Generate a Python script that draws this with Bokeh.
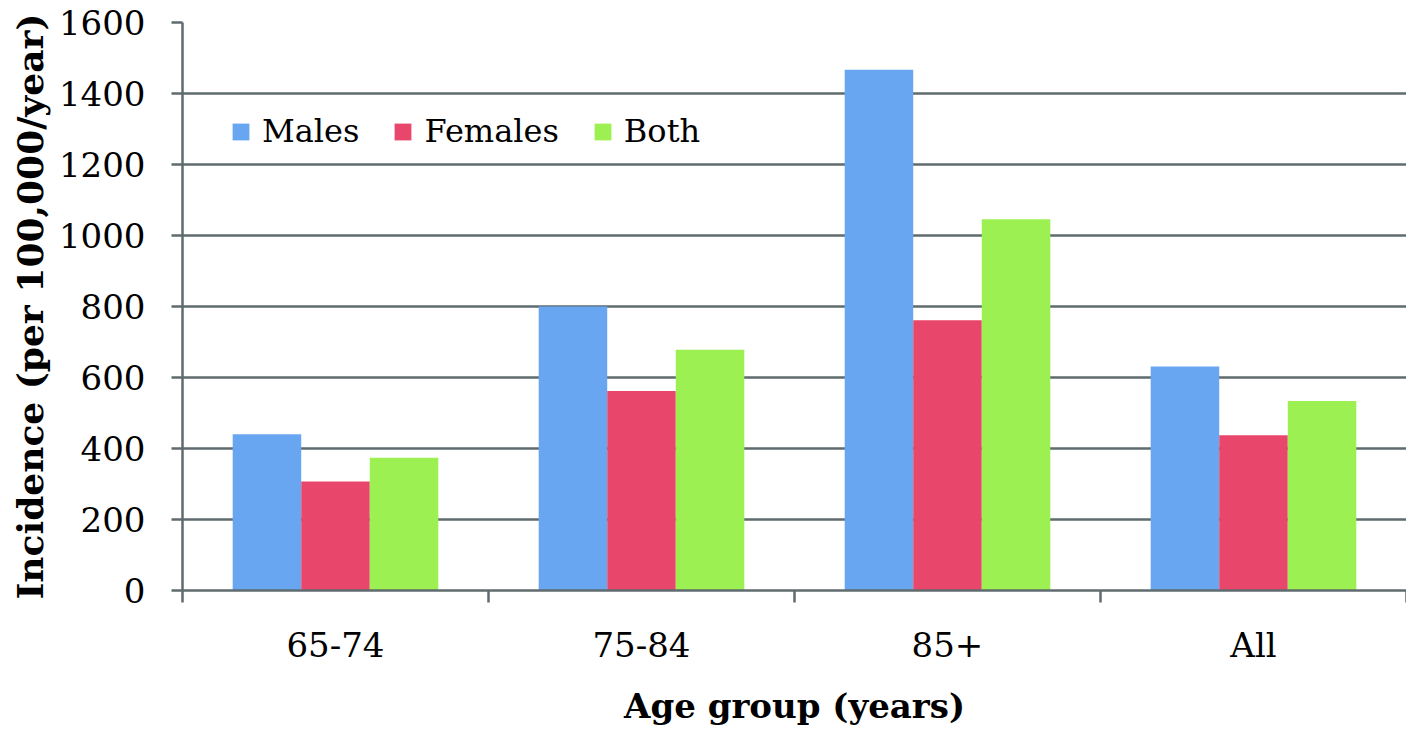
from bokeh.plotting import figure
from bokeh.models import ColumnDataSource, Range1d, FixedTicker, Legend, LegendItem
from bokeh.transform import dodge
from bokeh.embed import file_html
from bokeh.resources import INLINE

# ---- data ----
age_groups = ["65-74", "75-84", "85+", "All"]
males = [440, 800, 1467, 631]
females = [307, 562, 761, 437]
both = [374, 678, 1046, 534]
y_ticks = [0, 200, 400, 600, 800, 1000, 1200, 1400, 1600]

x_pos = [i + 0.5 for i in range(len(age_groups))]
src = ColumnDataSource(dict(x=x_pos, males=males, females=females, both=both))

GRID = "#5f6b6e"
FONT = "DejaVu Serif"

p = figure(width=1406, height=728, output_backend="svg", toolbar_location=None,
           x_range=Range1d(0, len(age_groups)), y_range=Range1d(0, 1600),
           min_border_left=182, min_border_right=0, min_border_top=22,
           min_border_bottom=118)
p.outline_line_color = None
p.background_fill_color = "white"
p.border_fill_color = "white"

bw = 0.224
r_m = p.vbar(x=dodge("x", -bw, range=p.x_range), top="males", width=bw, source=src,
             fill_color="#69a6f2", line_color=None)
r_f = p.vbar(x="x", top="females", width=bw, source=src,
             fill_color="#e9466b", line_color=None)
r_b = p.vbar(x=dodge("x", bw, range=p.x_range), top="both", width=bw, source=src,
             fill_color="#9cf052", line_color=None)

# y axis
p.yaxis.ticker = FixedTicker(ticks=y_ticks)
p.yaxis.axis_line_color = GRID
p.yaxis.axis_line_width = 2.5
p.yaxis.major_tick_line_color = GRID
p.yaxis.major_tick_line_width = 2.5
p.yaxis.major_tick_out = 11
p.yaxis.major_tick_in = 0
p.yaxis.minor_tick_line_color = None
p.yaxis.major_label_text_font = FONT
p.yaxis.major_label_text_font_size = "34px"
p.yaxis.major_label_text_color = "black"
p.yaxis.major_label_standoff = 26
p.yaxis.axis_label = "Incidence (per 100,000/year)"
p.yaxis.axis_label_text_font = FONT
p.yaxis.axis_label_text_font_style = "bold"
p.yaxis.axis_label_text_font_size = "36px"
p.yaxis.axis_label_text_color = "black"
p.yaxis.axis_label_standoff = 5

# x axis: labels at centres, tick marks at category boundaries
p.xaxis.ticker = FixedTicker(ticks=x_pos, minor_ticks=list(range(len(age_groups) + 1)))
p.xaxis.major_label_overrides = {x: lab for x, lab in zip(x_pos, age_groups)}
p.xaxis.axis_line_color = GRID
p.xaxis.axis_line_width = 2.5
p.xaxis.major_tick_line_color = None
p.xaxis.major_tick_out = 12
p.xaxis.major_tick_in = 0
p.xaxis.minor_tick_line_color = GRID
p.xaxis.minor_tick_line_width = 2.5
p.xaxis.minor_tick_out = 12
p.xaxis.minor_tick_in = 0
p.xaxis.major_label_text_font = FONT
p.xaxis.major_label_text_font_size = "34px"
p.xaxis.major_label_text_color = "black"
p.xaxis.major_label_standoff = 22
p.xaxis.axis_label = "Age group (years)"
p.xaxis.axis_label_text_font = FONT
p.xaxis.axis_label_text_font_style = "bold"
p.xaxis.axis_label_text_font_size = "34px"
p.xaxis.axis_label_text_color = "black"
p.xaxis.axis_label_standoff = 18

p.xgrid.grid_line_color = None
p.ygrid.ticker = FixedTicker(ticks=y_ticks[1:])
p.ygrid.grid_line_color = GRID
p.ygrid.grid_line_width = 2.5

legend = Legend(items=[LegendItem(label="Males", renderers=[r_m]),
                       LegendItem(label="Females", renderers=[r_f]),
                       LegendItem(label="Both", renderers=[r_b])],
                orientation="horizontal", location=(48, 440),
                glyph_width=21, glyph_height=21, label_standoff=11, spacing=33,
                padding=0, margin=0, border_line_color=None,
                background_fill_alpha=0,
                label_text_font=FONT, label_text_font_size="32px",
                label_text_color="black")
p.add_layout(legend)

open("out.html", "w").write(file_html(p, INLINE))
